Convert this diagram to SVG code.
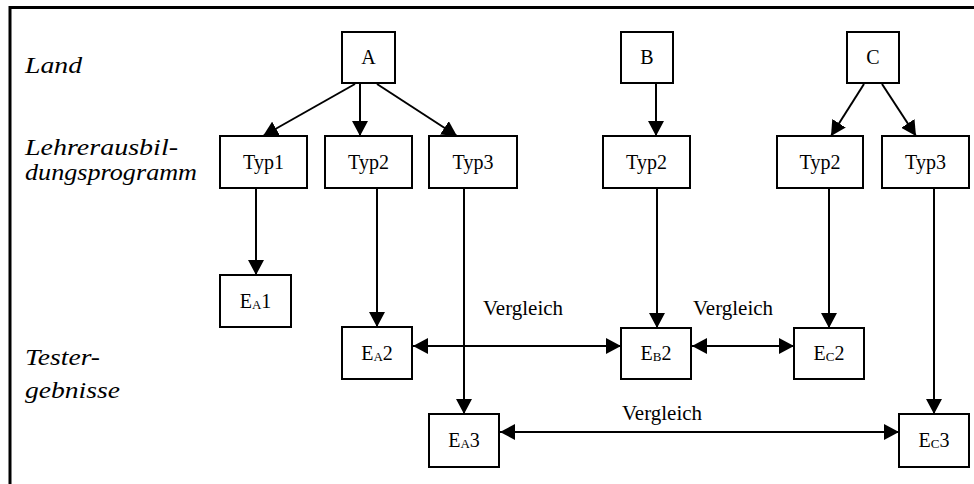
<svg xmlns="http://www.w3.org/2000/svg" width="974" height="484" viewBox="0 0 974 484">
<defs>
<marker id="ah" markerUnits="userSpaceOnUse" markerWidth="15" markerHeight="16" viewBox="0 0 15 16" refX="15" refY="8" orient="auto-start-reverse">
<path d="M0,0 L15,8 L0,16 z" fill="#000"/>
</marker>
<style>
.box{fill:#fff;stroke:#000;stroke-width:2}
.c{stroke:#000;stroke-width:2;fill:none}
</style>
</defs>
<rect width="974" height="484" fill="#fff"/>
<path d="M10,484 L10,7.5 L974,7.5" fill="none" stroke="#000" stroke-width="3"/>

<g id="labels">
<text x="25" y="73" font-family="Liberation Serif" font-size="24" font-style="italic" textLength="57" lengthAdjust="spacingAndGlyphs">Land</text>
<text x="25" y="155" font-family="Liberation Serif" font-size="24" font-style="italic" textLength="153" lengthAdjust="spacingAndGlyphs">Lehrerausbil-</text>
<text x="25" y="180" font-family="Liberation Serif" font-size="24" font-style="italic" textLength="172" lengthAdjust="spacingAndGlyphs">dungsprogramm</text>
<text x="25" y="365" font-family="Liberation Serif" font-size="24" font-style="italic" textLength="75" lengthAdjust="spacingAndGlyphs">Tester-</text>
<text x="25" y="398" font-family="Liberation Serif" font-size="24" font-style="italic" textLength="95" lengthAdjust="spacingAndGlyphs">gebnisse</text>
</g>

<g id="connectors">
<line class="c" x1="355" y1="84" x2="263" y2="136" marker-end="url(#ah)"/>
<line class="c" x1="360" y1="84" x2="360" y2="136" marker-end="url(#ah)"/>
<line class="c" x1="377" y1="84" x2="457" y2="136" marker-end="url(#ah)"/>
<line class="c" x1="656" y1="84" x2="656" y2="136" marker-end="url(#ah)"/>
<line class="c" x1="864" y1="84" x2="831" y2="136" marker-end="url(#ah)"/>
<line class="c" x1="882" y1="84" x2="916" y2="136" marker-end="url(#ah)"/>
<line class="c" x1="256" y1="188" x2="256" y2="275" marker-end="url(#ah)"/>
<line class="c" x1="377" y1="188" x2="377" y2="327" marker-end="url(#ah)"/>
<line class="c" x1="464" y1="188" x2="464" y2="414" marker-end="url(#ah)"/>
<line class="c" x1="657" y1="188" x2="657" y2="328" marker-end="url(#ah)"/>
<line class="c" x1="829" y1="188" x2="829" y2="328" marker-end="url(#ah)"/>
<line class="c" x1="934" y1="188" x2="934" y2="414" marker-end="url(#ah)"/>
<line class="c" x1="413" y1="346" x2="621" y2="346" marker-start="url(#ah)" marker-end="url(#ah)"/>
<line class="c" x1="692" y1="346" x2="794" y2="346" marker-start="url(#ah)" marker-end="url(#ah)"/>
<line class="c" x1="500" y1="432" x2="899" y2="432" marker-start="url(#ah)" marker-end="url(#ah)"/>
<text x="483" y="315" font-family="Liberation Serif" font-size="21">Vergleich</text>
<text x="693" y="315" font-family="Liberation Serif" font-size="21">Vergleich</text>
<text x="622" y="420" font-family="Liberation Serif" font-size="21">Vergleich</text>
</g>

<g id="nA"><rect class="box" x="342" y="32" width="53" height="51"/><text x="368.5" y="64" font-family="Liberation Serif" font-size="20" text-anchor="middle">A</text></g>
<g id="nB"><rect class="box" x="621" y="32" width="52" height="51"/><text x="647" y="64" font-family="Liberation Serif" font-size="20" text-anchor="middle">B</text></g>
<g id="nC"><rect class="box" x="847" y="32" width="52" height="51"/><text x="873" y="64" font-family="Liberation Serif" font-size="20" text-anchor="middle">C</text></g>

<g id="nA1"><rect class="box" x="220" y="136" width="87" height="52"/><text x="263.5" y="169" font-family="Liberation Serif" font-size="20" text-anchor="middle">Typ1</text></g>
<g id="nA2"><rect class="box" x="325" y="136" width="87" height="52"/><text x="368.5" y="169" font-family="Liberation Serif" font-size="20" text-anchor="middle">Typ2</text></g>
<g id="nA3"><rect class="box" x="429" y="136" width="88" height="52"/><text x="473" y="169" font-family="Liberation Serif" font-size="20" text-anchor="middle">Typ3</text></g>
<g id="nB2"><rect class="box" x="603" y="136" width="87" height="52"/><text x="646.5" y="169" font-family="Liberation Serif" font-size="20" text-anchor="middle">Typ2</text></g>
<g id="nC2"><rect class="box" x="777" y="136" width="86" height="52"/><text x="820" y="169" font-family="Liberation Serif" font-size="20" text-anchor="middle">Typ2</text></g>
<g id="nC3"><rect class="box" x="882" y="136" width="87" height="52"/><text x="925.5" y="169" font-family="Liberation Serif" font-size="20" text-anchor="middle">Typ3</text></g>

<g id="eA1"><rect class="box" x="220" y="275" width="71" height="52"/><text x="255.5" y="308" font-family="Liberation Serif" font-size="20" text-anchor="middle">E<tspan font-size="13" dy="1">A</tspan><tspan dy="-1">1</tspan></text></g>
<g id="eA2"><rect class="box" x="342" y="327" width="70" height="52"/><text x="377" y="360" font-family="Liberation Serif" font-size="20" text-anchor="middle">E<tspan font-size="13" dy="1">A</tspan><tspan dy="-1">2</tspan></text></g>
<g id="eA3"><rect class="box" x="429" y="414" width="70" height="53"/><text x="464" y="447" font-family="Liberation Serif" font-size="20" text-anchor="middle">E<tspan font-size="13" dy="1">A</tspan><tspan dy="-1">3</tspan></text></g>
<g id="eB2"><rect class="box" x="621" y="328" width="70" height="51"/><text x="656" y="360" font-family="Liberation Serif" font-size="20" text-anchor="middle">E<tspan font-size="13" dy="1">B</tspan><tspan dy="-1">2</tspan></text></g>
<g id="eC2"><rect class="box" x="794" y="328" width="70" height="51"/><text x="829" y="360" font-family="Liberation Serif" font-size="20" text-anchor="middle">E<tspan font-size="13" dy="1">C</tspan><tspan dy="-1">2</tspan></text></g>
<g id="eC3"><rect class="box" x="899" y="414" width="70" height="53"/><text x="934" y="447" font-family="Liberation Serif" font-size="20" text-anchor="middle">E<tspan font-size="13" dy="1">C</tspan><tspan dy="-1">3</tspan></text></g>
</svg>
